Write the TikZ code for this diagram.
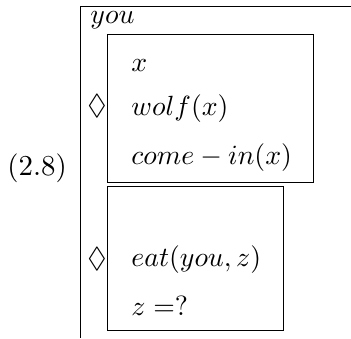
\documentclass[tikz,border=0pt]{standalone}
\usepackage{amssymb}
\begin{document}
\begin{tikzpicture}[x=0.36pt, y=-0.36pt, line width=0.35pt,
    every node/.style={font=\fontsize{10.4}{12.5}\selectfont},
    cond/.style={anchor=base west, inner sep=0pt},
    modal/.style={inner sep=0pt}]
    \useasboundingbox (0,0) rectangle (351,339);

    % Equation number
    \node[cond] (eqnum) at (7,176) {(2.8)};

    % Outer box (only top and left sides)
    \coordinate (outerNE) at (351,6);
    \coordinate (outerNW) at (80,6);
    \coordinate (outerSW) at (80,338);
    \draw (outerNE) -- (outerNW) -- (outerSW);
    \node[cond] (refyou) at (90,24) {$you$};

    % First sub-box
    \coordinate (boxA-nw) at (107,34);
    \coordinate (boxA-se) at (313,182);
    \draw (boxA-nw) rectangle (boxA-se);
    \node[modal] (diaA) at (97,106) {$\lozenge$};
    \node[cond] (refx) at (131,72) {$x$};
    \node[cond] (wolf) at (131,116) {$wolf(x)$};
    \node[cond] (comein) at (131,165) {$come-in(x)$};

    % Second sub-box
    \coordinate (boxB-nw) at (107,186);
    \coordinate (boxB-se) at (283,330);
    \draw (boxB-nw) rectangle (boxB-se);
    \node[modal] (diaB) at (97,259) {$\lozenge$};
    \node[cond] (eat) at (131,267) {$eat(you,z)$};
    \node[cond] (query) at (131,316) {$z=?$};
\end{tikzpicture}
\end{document}
